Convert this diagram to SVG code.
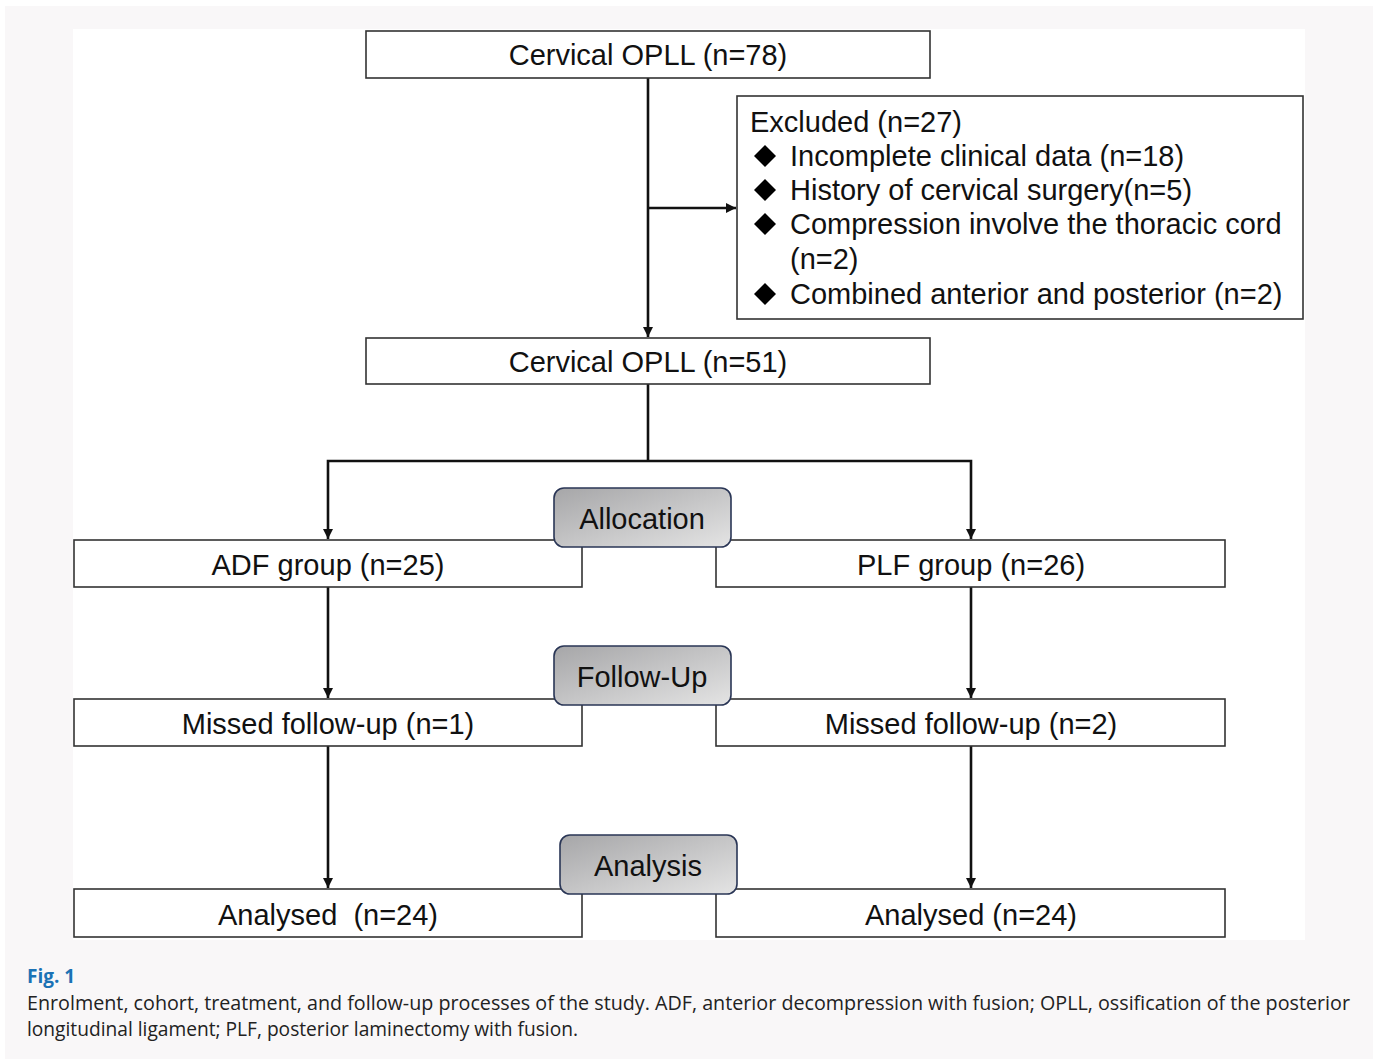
<svg xmlns="http://www.w3.org/2000/svg" width="1375" height="1059" viewBox="0 0 1375 1059">
<defs>
<style>
.box{fill:#ffffff;stroke:#333333;stroke-width:1.6}
.t{font-family:"Liberation Sans",Arial,sans-serif;font-size:29px;fill:#111111}
.tm{text-anchor:middle}
.stage{stroke:#2a3656;stroke-width:1.6;fill:url(#g)}
.ln{fill:none;stroke:#111111;stroke-width:2.6}
.cap{font-family:"Open Sans","DejaVu Sans",sans-serif;font-size:20px;fill:#222222}
</style>
<linearGradient id="g" x1="0" y1="0" x2="1" y2="1">
<stop offset="0" stop-color="#a6a6a8"/>
<stop offset="1" stop-color="#e4e4e4"/>
</linearGradient>
<marker id="ah" viewBox="0 0 10 10" refX="10" refY="5" markerWidth="10" markerHeight="10" markerUnits="userSpaceOnUse" orient="auto">
<path d="M0,0 L10,5 L0,10 z" fill="#111111"/>
</marker>
</defs>
<rect x="0" y="0" width="1375" height="1059" fill="#ffffff"/>
<rect x="5" y="6" width="1368" height="1053" fill="#f9f7f8"/>
<rect x="73" y="29" width="1232" height="911" fill="#ffffff"/>

<g id="connectors">
<line class="ln" x1="648" y1="78" x2="648" y2="337" marker-end="url(#ah)"/>
<line class="ln" x1="648" y1="208" x2="736" y2="208" marker-end="url(#ah)"/>
<polyline class="ln" points="648,384 648,461"/>
<polyline class="ln" points="648,461 328,461 328,539" marker-end="url(#ah)"/>
<polyline class="ln" points="648,461 971,461 971,539" marker-end="url(#ah)"/>
<line class="ln" x1="328" y1="587" x2="328" y2="698" marker-end="url(#ah)"/>
<line class="ln" x1="971" y1="587" x2="971" y2="698" marker-end="url(#ah)"/>
<line class="ln" x1="328" y1="746" x2="328" y2="888" marker-end="url(#ah)"/>
<line class="ln" x1="971" y1="746" x2="971" y2="888" marker-end="url(#ah)"/>
</g>

<g id="n_opll78">
<rect class="box" x="366" y="31" width="564" height="47"/>
<text class="t tm" x="648" y="65">Cervical OPLL (n=78)</text>
</g>
<g id="n_excluded">
<rect class="box" x="737" y="96" width="566" height="223"/>
<text class="t" x="750" y="132">Excluded (n=27)</text>
<g fill="#000000">
<path d="M765,145 L776,156 L765,167 L754,156 z"/>
<path d="M765,179 L776,190 L765,201 L754,190 z"/>
<path d="M765,213 L776,224 L765,235 L754,224 z"/>
<path d="M765,283 L776,294 L765,305 L754,294 z"/>
</g>
<text class="t" x="790" y="166">Incomplete clinical data (n=18)</text>
<text class="t" x="790" y="200">History of cervical surgery(n=5)</text>
<text class="t" x="790" y="234">Compression involve the thoracic cord</text>
<text class="t" x="790" y="269">(n=2)</text>
<text class="t" x="790" y="304">Combined anterior and posterior (n=2)</text>
</g>
<g id="n_opll51">
<rect class="box" x="366" y="338" width="564" height="46"/>
<text class="t tm" x="648" y="372">Cervical OPLL (n=51)</text>
</g>
<g id="n_adf">
<rect class="box" x="74" y="540" width="508" height="47"/>
<text class="t tm" x="328" y="575">ADF group (n=25)</text>
</g>
<g id="n_plf">
<rect class="box" x="716" y="540" width="509" height="47"/>
<text class="t tm" x="971" y="575">PLF group (n=26)</text>
</g>
<g id="n_allocation">
<rect class="stage" x="554" y="488" width="177" height="59" rx="10"/>
<text class="t tm" x="642" y="529">Allocation</text>
</g>
<g id="n_missed1">
<rect class="box" x="74" y="699" width="508" height="47"/>
<text class="t tm" x="328" y="734">Missed follow-up (n=1)</text>
</g>
<g id="n_missed2">
<rect class="box" x="716" y="699" width="509" height="47"/>
<text class="t tm" x="971" y="734">Missed follow-up (n=2)</text>
</g>
<g id="n_followup">
<rect class="stage" x="554" y="646" width="177" height="59" rx="10"/>
<text class="t tm" x="642" y="687">Follow-Up</text>
</g>
<g id="n_analysed1">
<rect class="box" x="74" y="889" width="508" height="48"/>
<text class="t tm" x="328" y="925" xml:space="preserve">Analysed  (n=24)</text>
</g>
<g id="n_analysed2">
<rect class="box" x="716" y="889" width="509" height="48"/>
<text class="t tm" x="971" y="925">Analysed (n=24)</text>
</g>
<g id="n_analysis">
<rect class="stage" x="560" y="835" width="177" height="59" rx="10"/>
<text class="t tm" x="648" y="876">Analysis</text>
</g>

<text x="27" y="983" font-family="'Open Sans','DejaVu Sans',sans-serif" font-size="19" font-weight="bold" fill="#1b72b5">Fig. 1</text>
<text class="cap" x="27" y="1010" textLength="1323" lengthAdjust="spacingAndGlyphs">Enrolment, cohort, treatment, and follow-up processes of the study. ADF, anterior decompression with fusion; OPLL, ossification of the posterior</text>
<text class="cap" x="27" y="1036" textLength="551" lengthAdjust="spacingAndGlyphs">longitudinal ligament; PLF, posterior laminectomy with fusion.</text>
</svg>
